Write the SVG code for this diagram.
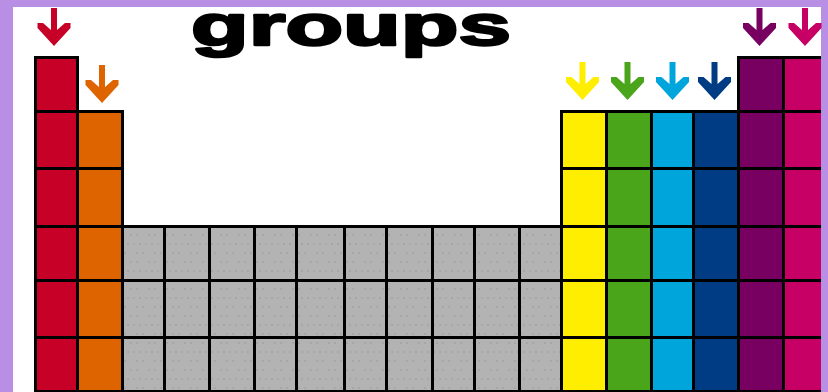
<svg xmlns="http://www.w3.org/2000/svg" width="828" height="392" viewBox="0 0 828 392">
  <style>
    .ln { fill: #000000; }
    .title { font-family: "Liberation Sans", Arial, sans-serif; font-weight: bold; font-size: 58px; fill: #000000; stroke: #000000; stroke-width: 2.4px; stroke-linejoin: round; }
  </style>
  <defs>
    <pattern id="dots" x="124" y="228" width="18" height="27" patternUnits="userSpaceOnUse">
      <rect width="18" height="27" fill="#b3b3b3"/>
      <rect x="6" y="6" width="2" height="2" fill="#a7a7a7"/>
      <rect x="12" y="6" width="2" height="2" fill="#a7a7a7"/>
      <rect x="3" y="15" width="2" height="2" fill="#a7a7a7"/>
      <rect x="9" y="15" width="2" height="2" fill="#a7a7a7"/>
      <rect x="15" y="15" width="2" height="2" fill="#a7a7a7"/>
      <rect x="0" y="24" width="2" height="2" fill="#a7a7a7"/>
      <rect x="12" y="24" width="2" height="2" fill="#a7a7a7"/>
    </pattern>
    <path id="arrow" d="M-3,0 L3,0 L3,22 L11,15 L16.5,15 L16.5,20 L0,38 L-16.5,20 L-16.5,15 L-11,15 L-3,22 Z"/>
  </defs>

  <!-- frame -->
  <rect x="0" y="0" width="828" height="392" fill="#b98fe6"/>
  <rect x="13" y="7" width="808" height="385" fill="#ffffff"/>

  <text class="title" x="191" y="45" textLength="320" lengthAdjust="spacingAndGlyphs">groups</text>

  <!-- arrows -->
  <g id="arrows">
    <use href="#arrow" x="54" y="8" fill="#c60027"/>
    <use href="#arrow" x="102" y="65" fill="#de6400"/>
    <use href="#arrow" x="582.5" y="62" fill="#ffee00"/>
    <use href="#arrow" x="627.5" y="62" fill="#4ba51a"/>
    <use href="#arrow" x="672.5" y="62" fill="#00a5dc"/>
    <use href="#arrow" x="714.5" y="62" fill="#003c84"/>
    <use href="#arrow" x="759.5" y="8" fill="#780060"/>
    <use href="#arrow" x="805" y="8" fill="#c60064"/>
  </g>

  <!-- column fills -->
  <g id="group1"><rect x="34" y="56" width="45" height="336" fill="#c60027"/></g>
  <g id="group2"><rect x="79" y="110" width="45" height="282" fill="#de6400"/></g>
  <g id="transition"><rect x="124" y="225" width="436" height="167" fill="url(#dots)"/></g>
  <g id="group3"><rect x="560" y="110" width="45" height="282" fill="#ffee00"/></g>
  <g id="group4"><rect x="605" y="110" width="45" height="282" fill="#4ba51a"/></g>
  <g id="group5"><rect x="650" y="110" width="42" height="282" fill="#00a5dc"/></g>
  <g id="group6"><rect x="692" y="110" width="45" height="282" fill="#003c84"/></g>
  <g id="group7"><rect x="737" y="56" width="45" height="336" fill="#780060"/></g>
  <g id="group8"><rect x="782" y="56" width="39" height="336" fill="#c60064"/></g>

  <!-- grid lines -->
  <g id="grid">
    <rect class="ln" x="34" y="56" width="3" height="336"/>
    <rect class="ln" x="76" y="56" width="3" height="336"/>
    <rect class="ln" x="121" y="110" width="3" height="282"/>
    <rect class="ln" x="163" y="225" width="3" height="167"/>
    <rect class="ln" x="208" y="225" width="3" height="167"/>
    <rect class="ln" x="253" y="225" width="3" height="167"/>
    <rect class="ln" x="295" y="225" width="3" height="167"/>
    <rect class="ln" x="343" y="225" width="3" height="167"/>
    <rect class="ln" x="385" y="225" width="3" height="167"/>
    <rect class="ln" x="431" y="225" width="3" height="167"/>
    <rect class="ln" x="473" y="225" width="3" height="167"/>
    <rect class="ln" x="518" y="225" width="3" height="167"/>
    <rect class="ln" x="560" y="110" width="3" height="282"/>
    <rect class="ln" x="605" y="110" width="3" height="282"/>
    <rect class="ln" x="650" y="110" width="3" height="282"/>
    <rect class="ln" x="692" y="110" width="3" height="282"/>
    <rect class="ln" x="737" y="56" width="3" height="336"/>
    <rect class="ln" x="782" y="56" width="3" height="336"/>

    <rect class="ln" x="34" y="56" width="45" height="3"/>
    <rect class="ln" x="737" y="56" width="84" height="3"/>
    <rect class="ln" x="34" y="110" width="90" height="3"/>
    <rect class="ln" x="560" y="110" width="261" height="3"/>
    <rect class="ln" x="34" y="167" width="90" height="3"/>
    <rect class="ln" x="560" y="167" width="261" height="3"/>
    <rect class="ln" x="34" y="225" width="787" height="3"/>
    <rect class="ln" x="34" y="279" width="787" height="3"/>
    <rect class="ln" x="34" y="336" width="787" height="3"/>
    <rect class="ln" x="34" y="390" width="787" height="2"/>
  </g>
</svg>
